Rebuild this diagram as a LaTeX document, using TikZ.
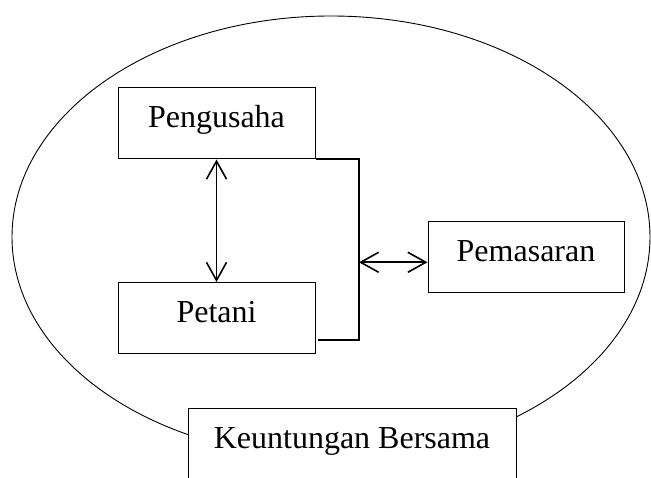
\documentclass[tikz,border=0pt]{standalone}
\usepackage{fontspec}
\setmainfont{Liberation Serif}
\usepackage{tikz}
\usetikzlibrary{arrows.meta,shapes}

\begin{document}
\begin{tikzpicture}[x = 1pt, y = 1pt,
  box/.style = {shape = rectangle, draw, fill = white, line width = 1pt,
    minimum width = 197, minimum height = 71, inner sep = 0,
    text height = 22pt, text depth = 13pt, font = \fontsize{32}{38}\selectfont},
  link/.style = {line width = 1.6pt,
    {Straight Barb[length=18pt,width=20pt]}-{Straight Barb[length=18pt,width=20pt]}}]
\useasboundingbox (0,0) rectangle (651,477);

\node[shape = ellipse, draw, line width = 0.9pt, minimum width = 638, minimum height = 442, inner sep = 0](n0) at (331,240) {};

\node[box](n1u) at (216.5,353.5) {Pengusaha};
\node[box](n1d) at (216.5,159) {Petani};
\node[box, minimum width = 196](n2r) at (526,219.5) {Pemasaran};
\node[box, minimum width = 328](n3b) at (352,32.5) {Keuntungan Bersama};

\coordinate (b1) at (359,137);
\coordinate (b2) at (318,137);
\coordinate (b3) at (359,214.7);

\draw[link] (n1u.south) -- (n1d.north);
\draw[line width = 2pt] (n1u.south east) -| (b1) -- (b2);
\draw[link] (b3) -- (b3 -| n2r.west);

\end{tikzpicture}
\end{document}
